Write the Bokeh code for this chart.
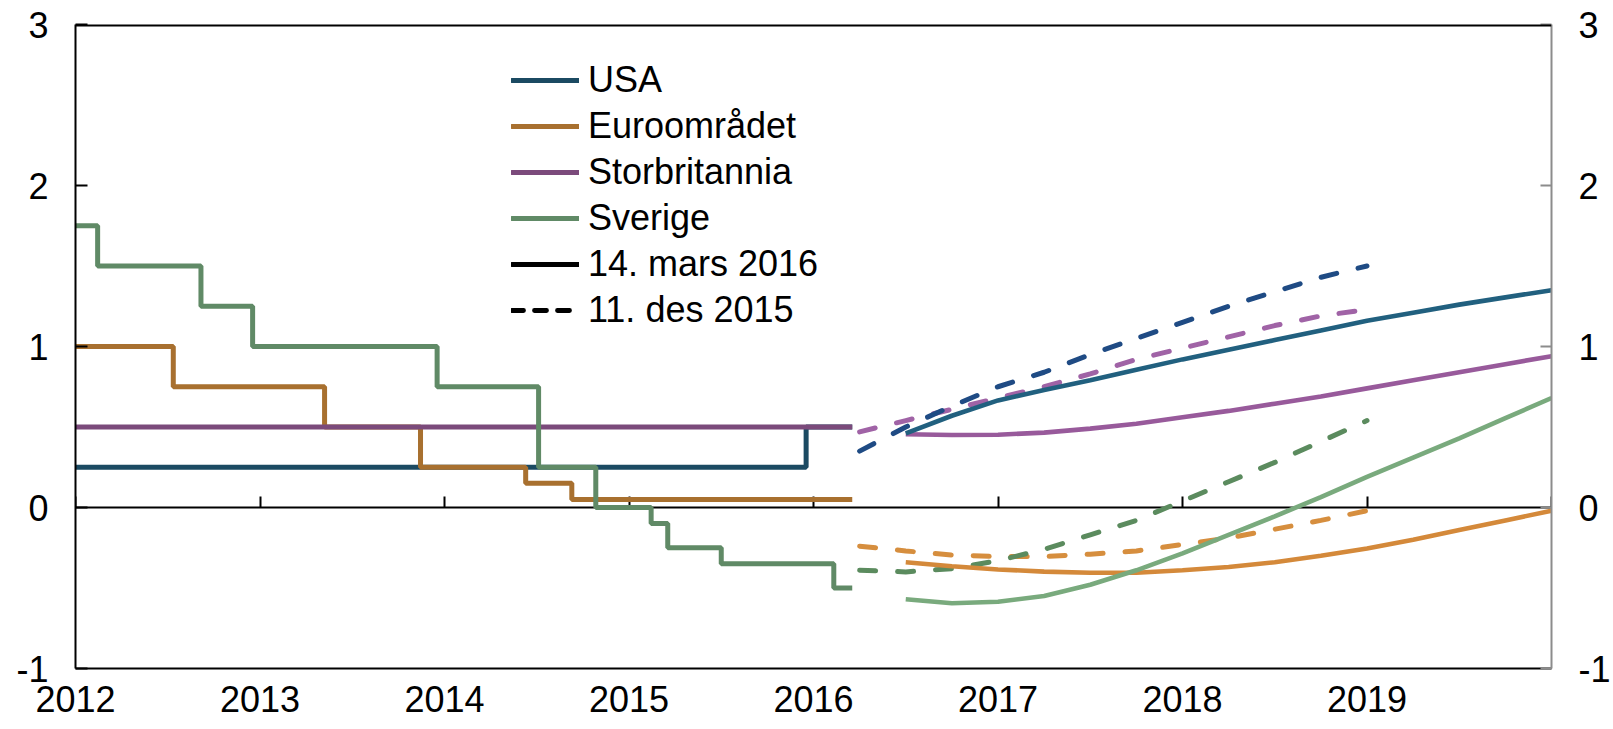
from bokeh.plotting import figure
from bokeh.models import Span, Legend, LegendItem, LinearAxis, FixedTicker
from bokeh.embed import file_html
from bokeh.resources import INLINE

# ---------------- data ----------------
# historical policy rates (x in decimal years)
usa_hist_x = [2012.0, 2015.96, 2016.21]
usa_hist_y = [0.25, 0.50, 0.50]
euro_hist_x = [2012.0, 2012.53, 2013.35, 2013.87, 2014.44, 2014.69, 2016.21]
euro_hist_y = [1.00, 0.75, 0.50, 0.25, 0.15, 0.05, 0.05]
uk_hist_x = [2012.0, 2016.21]
uk_hist_y = [0.50, 0.50]
swe_hist_x = [2012.0, 2012.12, 2012.68, 2012.96, 2013.96, 2014.51, 2014.82,
              2015.12, 2015.21, 2015.50, 2016.11, 2016.21]
swe_hist_y = [1.75, 1.50, 1.25, 1.00, 0.75, 0.25, 0.00,
              -0.10, -0.25, -0.35, -0.50, -0.50]

# market-implied forward rates, 14. mars 2016 (solid)
fwd_mar_x = [2016.5, 2016.75, 2017.0, 2017.25, 2017.5, 2017.75, 2018.0, 2018.25,
             2018.5, 2018.75, 2019.0, 2019.25, 2019.5, 2019.75, 2020.0]
usa_mar = [0.46, 0.57, 0.665, 0.73, 0.79, 0.855, 0.92, 0.98, 1.04, 1.10, 1.16, 1.21, 1.26, 1.305, 1.35]
euro_mar = [-0.34, -0.365, -0.385, -0.398, -0.405, -0.405, -0.39, -0.37, -0.34, -0.30, -0.255, -0.20, -0.14, -0.08, -0.02]
uk_mar = [0.455, 0.45, 0.452, 0.465, 0.49, 0.52, 0.56, 0.60, 0.645, 0.69, 0.74, 0.79, 0.84, 0.89, 0.94]
swe_mar = [-0.57, -0.595, -0.585, -0.55, -0.48, -0.39, -0.285, -0.17, -0.055, 0.065, 0.19, 0.31, 0.43, 0.555, 0.68]

# market-implied forward rates, 11. des 2015 (dashed)
fwd_des_x = [2016.25, 2016.5, 2016.75, 2017.0, 2017.25, 2017.5, 2017.75, 2018.0,
             2018.25, 2018.5, 2018.75, 2019.0]
usa_des = [0.35, 0.50, 0.63, 0.75, 0.84, 0.95, 1.05, 1.15, 1.25, 1.34, 1.43, 1.50]
euro_des = [-0.24, -0.27, -0.295, -0.305, -0.305, -0.29, -0.27, -0.23, -0.19, -0.135, -0.08, -0.02]
uk_des = [0.47, 0.54, 0.61, 0.68, 0.75, 0.83, 0.92, 0.99, 1.06, 1.13, 1.19, 1.23]
swe_des = [-0.39, -0.40, -0.38, -0.33, -0.26, -0.17, -0.08, 0.04, 0.16, 0.28, 0.41, 0.54]

year_ticks = [2012, 2013, 2014, 2015, 2016, 2017, 2018, 2019]
zero_line_ticks = [2012, 2013, 2014, 2015, 2016, 2017, 2018, 2019, 2020]
y_ticks = [-1, 0, 1, 2, 3]
y_tick_overrides = {-1: "-1"}
X_START, X_END = 2012, 2020
Y_MIN, Y_MAX = -1, 3

legend_labels = ["USA", "Euroområdet", "Storbritannia", "Sverige", "14. mars 2016", "11. des 2015"]

# ---------------- styles ----------------
C_HIST = {"usa": "#1B4A62", "euro": "#A8702F", "uk": "#7B4A7B", "swe": "#608A66"}
C_MAR = {"usa": "#21607F", "euro": "#D4893A", "uk": "#985A9B", "swe": "#79AA7D"}
C_DES = {"usa": "#1F4B84", "euro": "#D68E3E", "uk": "#A063A6", "swe": "#5B8B5E"}
FONT = "Liberation Sans"
TICK_FS = "36px"
GREY = "#8C8C8C"
NAN = float("nan")

p = figure(width=1613, height=729, x_range=(X_START, X_END), y_range=(Y_MIN, Y_MAX),
           output_backend="svg", toolbar_location=None,
           min_border_left=75, min_border_right=61, min_border_top=24, min_border_bottom=61)
p.outline_line_color = None
p.xgrid.grid_line_color = None
p.ygrid.grid_line_color = None


def style_axis(ax, line_color, tick_in, standoff, show_labels=True):
    ax.axis_line_color = line_color
    ax.axis_line_width = 2
    ax.major_tick_in = tick_in
    ax.major_tick_out = 0
    ax.major_tick_line_color = line_color if tick_in else None
    ax.major_tick_line_width = 2
    ax.minor_tick_line_color = None
    ax.major_label_standoff = standoff
    ax.major_label_text_font = FONT
    ax.major_label_text_font_size = TICK_FS
    ax.major_label_text_color = "black" if show_labels else None


# bottom axis (labels only)
xa = p.xaxis[0]
xa.ticker = FixedTicker(ticks=year_ticks)
style_axis(xa, "black", 0, 17)

# left value axis
ya = p.yaxis[0]
ya.ticker = FixedTicker(ticks=y_ticks)
ya.major_label_overrides = y_tick_overrides
style_axis(ya, "black", 12, 27)

# right value axis
ra = LinearAxis(ticker=FixedTicker(ticks=y_ticks), major_label_overrides=y_tick_overrides)
style_axis(ra, GREY, 11, 27)
p.add_layout(ra, "right")

# zero line with upward year ticks, drawn beneath the series
x0 = LinearAxis(ticker=FixedTicker(ticks=zero_line_ticks), fixed_location=0)
style_axis(x0, "black", 11, 0, show_labels=False)
x0.level = "underlay"
p.add_layout(x0, "below")

# top frame line
p.add_layout(Span(location=Y_MAX, dimension="width", line_color="black", line_width=4))

# historical steps
HW = 5
p.step(usa_hist_x, usa_hist_y, mode="after", line_color=C_HIST["usa"], line_width=HW)
p.step(euro_hist_x, euro_hist_y, mode="after", line_color=C_HIST["euro"], line_width=HW)
p.step(uk_hist_x, uk_hist_y, mode="after", line_color=C_HIST["uk"], line_width=HW)
p.step(swe_hist_x, swe_hist_y, mode="after", line_color=C_HIST["swe"], line_width=HW)

# dashed forwards (Dec 2015)
DW = 5
DASH = "16 22"
for key, ys in [("euro", euro_des), ("swe", swe_des), ("uk", uk_des), ("usa", usa_des)]:
    p.line(fwd_des_x, ys, line_color=C_DES[key], line_width=DW, line_dash=DASH, line_cap="round")

# solid forwards (Mar 2016)
FW = 4.6
for key, ys in [("euro", euro_mar), ("swe", swe_mar), ("uk", uk_mar), ("usa", usa_mar)]:
    p.line(fwd_mar_x, ys, line_color=C_MAR[key], line_width=FW)

# legend (proxy renderers, nothing visible in the plot)
lg_styles = [
    dict(line_color=C_HIST["usa"]),
    dict(line_color=C_HIST["euro"]),
    dict(line_color=C_HIST["uk"]),
    dict(line_color=C_HIST["swe"]),
    dict(line_color="black"),
    dict(line_color="black", line_dash="12 11"),
]
items = []
for lab, st in zip(legend_labels, lg_styles):
    r = p.line([NAN, NAN], [NAN, NAN], line_width=4.8, line_cap="round", **st)
    items.append(LegendItem(label=lab, renderers=[r]))

legend = Legend(items=items, location=(436, 335),
                glyph_width=68, glyph_height=46, label_height=46, spacing=0,
                padding=0, margin=0, label_standoff=9,
                label_text_font=FONT, label_text_font_size="36px",
                label_text_color="black",
                background_fill_alpha=0, border_line_color=None)
p.add_layout(legend)

open("out.html", "w").write(file_html(p, INLINE))
